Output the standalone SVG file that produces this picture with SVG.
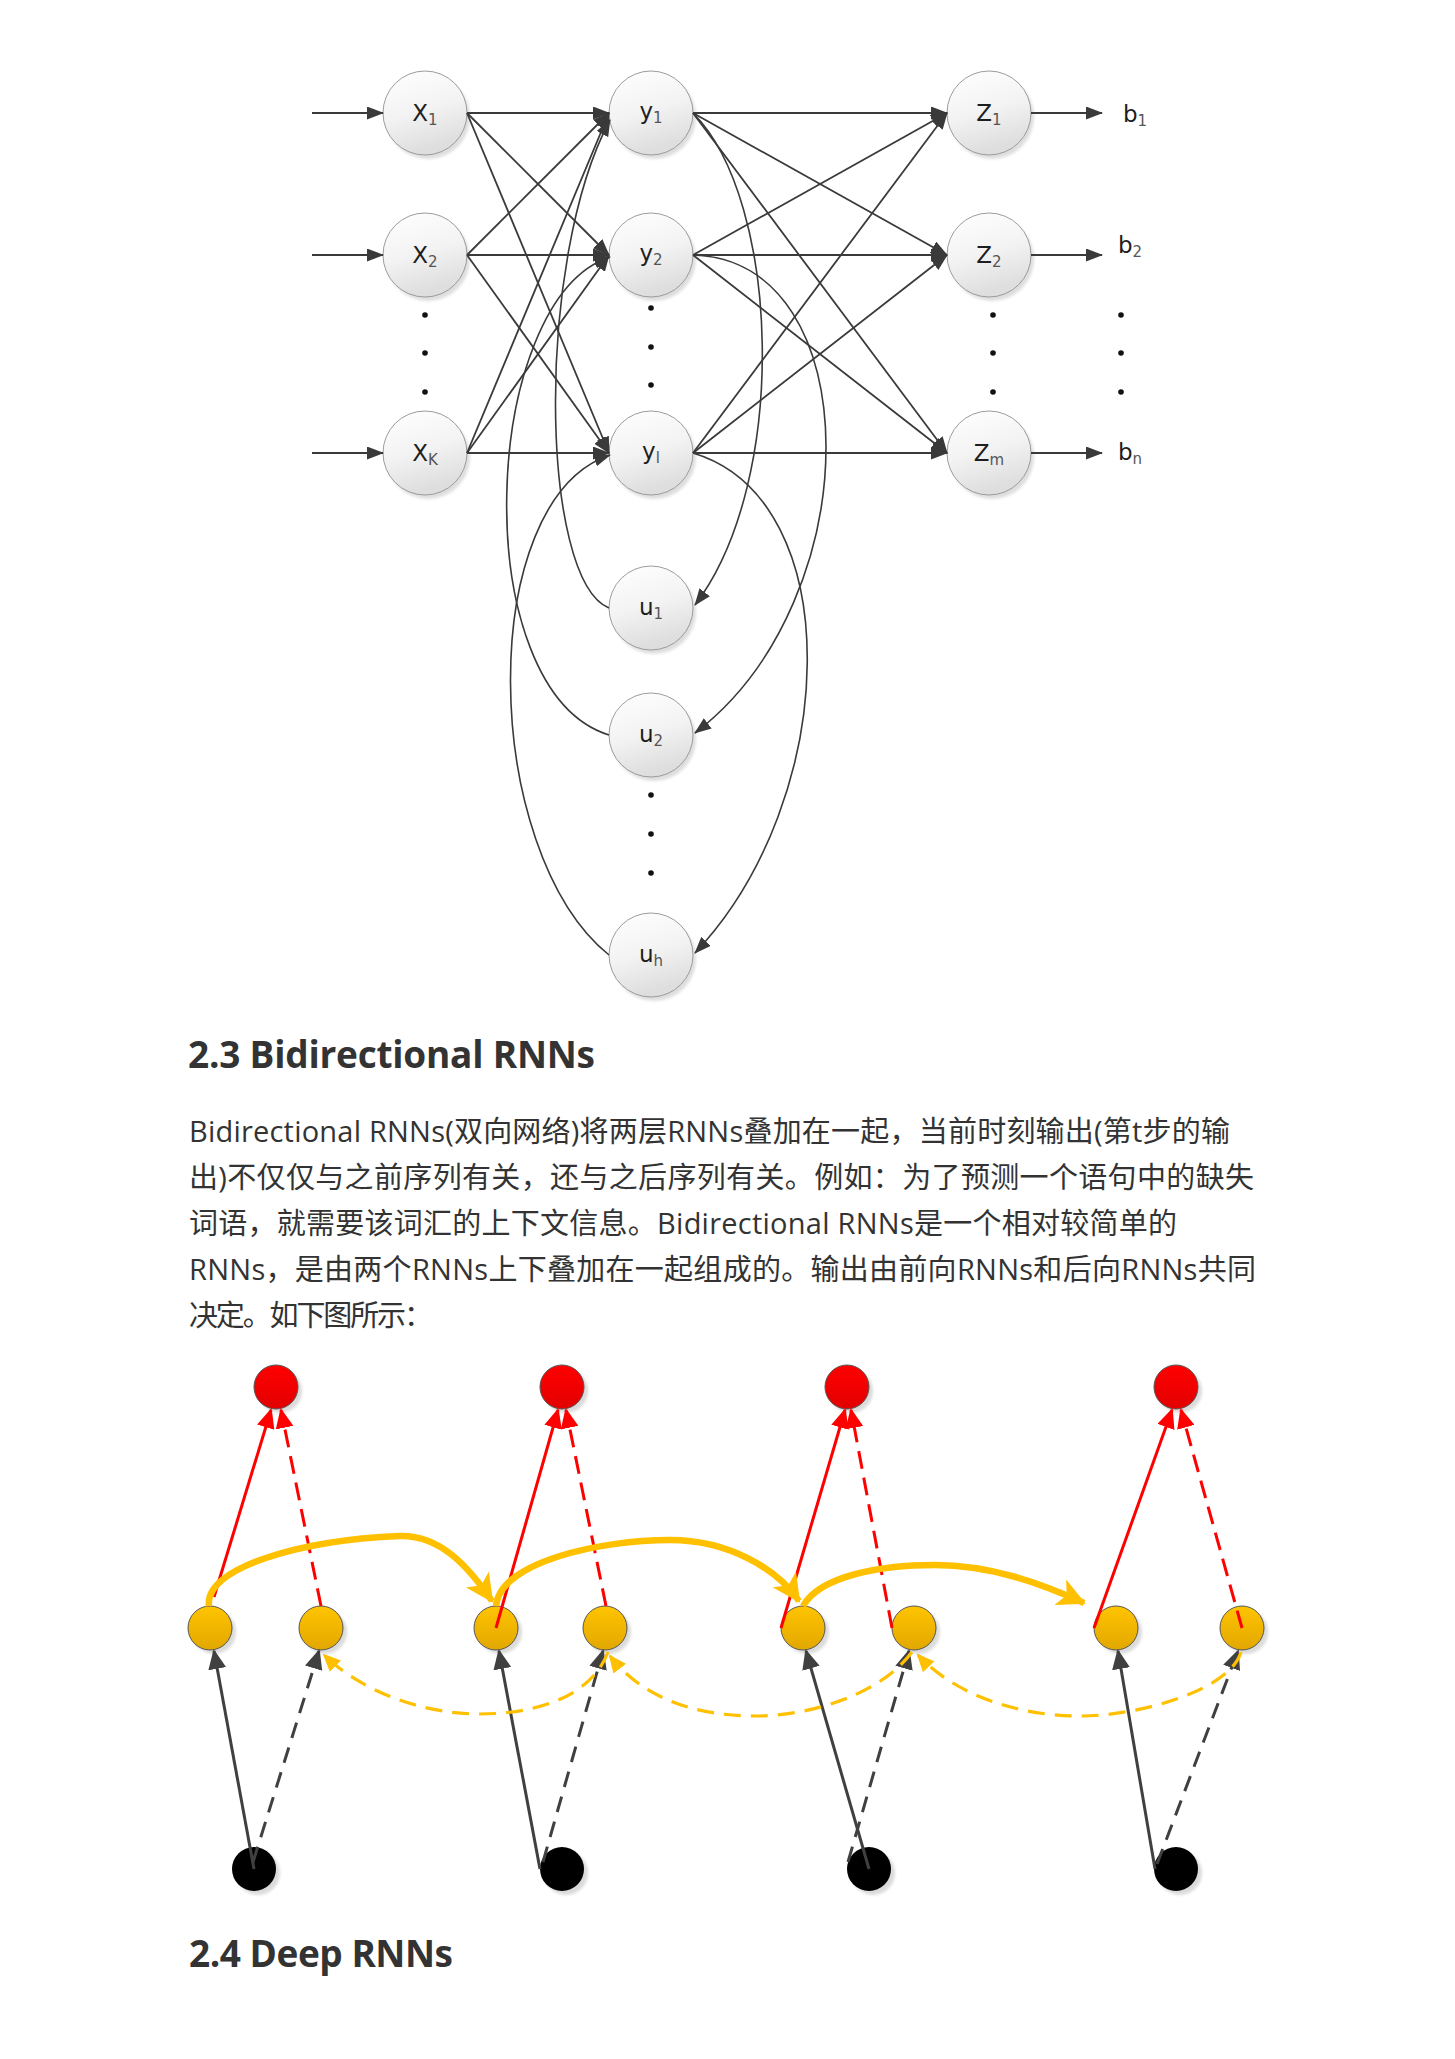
<svg xmlns="http://www.w3.org/2000/svg" width="1455" height="2059" viewBox="0 0 1455 2059">
<defs>
<style>
.c{fill:url(#gGray);stroke:#9c9c9c;stroke-width:1}
.sh{fill:#000;opacity:0.13;filter:url(#blur)}
.lbl{font-family:"DejaVu Sans",sans-serif;font-size:23px;fill:#1e1e1e;text-anchor:middle}
.lbl2{font-family:"DejaVu Sans",sans-serif;font-size:23px;fill:#1e1e1e}
.sub{font-size:15px;fill:#555}
.dot{fill:#111}
.ln{stroke:#3a3a3a;stroke-width:1.8;fill:none;marker-end:url(#mT)}
.cv{stroke:#3a3a3a;stroke-width:1.6;fill:none;marker-end:url(#mT)}
.dk{stroke:#404040;stroke-width:3;fill:none;marker-end:url(#mD)}
.dkd{stroke:#404040;stroke-width:3;fill:none;stroke-dasharray:16 10;marker-end:url(#mD)}
.rd{stroke:#FF0000;stroke-width:3;fill:none;marker-end:url(#mR)}
.rdd{stroke:#FF0000;stroke-width:3;fill:none;stroke-dasharray:18 9;marker-end:url(#mR)}
.yt{stroke:#FFC000;stroke-width:6.5;fill:none;marker-end:url(#mY)}
.yd{stroke:#FFC000;stroke-width:3.2;fill:none;stroke-dasharray:17 10;marker-end:url(#mYs)}
.yc{fill:url(#gYel);stroke:#555;stroke-width:1}
.rc{fill:url(#gRed);stroke:#555;stroke-width:1}
.kc{fill:#000}
.bsh{fill:#000;opacity:0.14;filter:url(#blur)}
.h{font-family:"Open Sans","Noto Sans CJK SC",sans-serif;font-weight:700;font-size:37px;fill:#333}
.p{font-family:"Open Sans","Noto Sans CJK SC",sans-serif;font-size:29px;fill:#333}
</style>
<linearGradient id="gGray" x1="0" y1="0" x2="0.3" y2="1">
<stop offset="0" stop-color="#ffffff"/><stop offset="0.55" stop-color="#f3f3f3"/><stop offset="1" stop-color="#dedede"/>
</linearGradient>
<linearGradient id="gYel" x1="0" y1="0" x2="0" y2="1">
<stop offset="0" stop-color="#FFC400"/><stop offset="1" stop-color="#E2A700"/>
</linearGradient>
<linearGradient id="gRed" x1="0" y1="0" x2="0" y2="1">
<stop offset="0" stop-color="#FF0000"/><stop offset="1" stop-color="#E20000"/>
</linearGradient>
<filter id="blur" x="-20%" y="-20%" width="140%" height="140%"><feGaussianBlur stdDeviation="1.6"/></filter>
<marker id="mT" markerUnits="userSpaceOnUse" markerWidth="17" markerHeight="13" refX="16" refY="6.5" orient="auto"><path d="M0,0 L17,6.5 L0,13 z" fill="#3a3a3a"/></marker>
<marker id="mD" markerUnits="userSpaceOnUse" markerWidth="20" markerHeight="18" refX="18" refY="9" orient="auto"><path d="M0,0 L20,9 L0,18 z" fill="#404040"/></marker>
<marker id="mR" markerUnits="userSpaceOnUse" markerWidth="20" markerHeight="18" refX="18" refY="9" orient="auto"><path d="M0,0 L20,9 L0,18 z" fill="#FF0000"/></marker>
<marker id="mY" markerUnits="userSpaceOnUse" markerWidth="28" markerHeight="28" refX="26" refY="14" orient="auto"><path d="M0,0 L28,14 L0,28 L7,14 z" fill="#FFC000"/></marker>
<marker id="mYs" markerUnits="userSpaceOnUse" markerWidth="18" markerHeight="16" refX="16" refY="8" orient="auto"><path d="M0,0 L18,8 L0,16 z" fill="#FFC000"/></marker>
</defs>
<rect width="1455" height="2059" fill="#ffffff"/>

<!-- ===== top network nodes ===== -->
<g id="node-x1"><circle class="sh" cx="428" cy="117" r="42"/><circle class="c" cx="425" cy="113" r="42"/><text class="lbl" x="425" y="121">X<tspan class="sub" dy="4">1</tspan></text></g>
<g id="node-x2"><circle class="sh" cx="428" cy="259" r="42"/><circle class="c" cx="425" cy="255" r="42"/><text class="lbl" x="425" y="263">X<tspan class="sub" dy="4">2</tspan></text></g>
<g id="node-xk"><circle class="sh" cx="428" cy="457" r="42"/><circle class="c" cx="425" cy="453" r="42"/><text class="lbl" x="425" y="461">X<tspan class="sub" dy="4">K</tspan></text></g>
<g id="node-y1"><circle class="sh" cx="654" cy="117" r="42"/><circle class="c" cx="651" cy="113" r="42"/><text class="lbl" x="651" y="119">y<tspan class="sub" dy="4">1</tspan></text></g>
<g id="node-y2"><circle class="sh" cx="654" cy="259" r="42"/><circle class="c" cx="651" cy="255" r="42"/><text class="lbl" x="651" y="261">y<tspan class="sub" dy="4">2</tspan></text></g>
<g id="node-yl"><circle class="sh" cx="654" cy="457" r="42"/><circle class="c" cx="651" cy="453" r="42"/><text class="lbl" x="651" y="459">y<tspan class="sub" dy="4">l</tspan></text></g>
<g id="node-z1"><circle class="sh" cx="992" cy="117" r="42"/><circle class="c" cx="989" cy="113" r="42"/><text class="lbl" x="989" y="121">Z<tspan class="sub" dy="4">1</tspan></text></g>
<g id="node-z2"><circle class="sh" cx="992" cy="259" r="42"/><circle class="c" cx="989" cy="255" r="42"/><text class="lbl" x="989" y="263">Z<tspan class="sub" dy="4">2</tspan></text></g>
<g id="node-zm"><circle class="sh" cx="992" cy="457" r="42"/><circle class="c" cx="989" cy="453" r="42"/><text class="lbl" x="989" y="461">Z<tspan class="sub" dy="4">m</tspan></text></g>
<g id="node-u1"><circle class="sh" cx="654" cy="612" r="42"/><circle class="c" cx="651" cy="608" r="42"/><text class="lbl" x="651" y="615">u<tspan class="sub" dy="4">1</tspan></text></g>
<g id="node-u2"><circle class="sh" cx="654" cy="739" r="42"/><circle class="c" cx="651" cy="735" r="42"/><text class="lbl" x="651" y="742">u<tspan class="sub" dy="4">2</tspan></text></g>
<g id="node-uh"><circle class="sh" cx="654" cy="959" r="42"/><circle class="c" cx="651" cy="955" r="42"/><text class="lbl" x="651" y="962">u<tspan class="sub" dy="4">h</tspan></text></g>
<g id="label-b1"><text class="lbl2" x="1123" y="122">b<tspan class="sub" dy="4">1</tspan></text></g>
<g id="label-b2"><text class="lbl2" x="1118" y="253">b<tspan class="sub" dy="4">2</tspan></text></g>
<g id="label-bn"><text class="lbl2" x="1118" y="460">b<tspan class="sub" dy="4">n</tspan></text></g>

<g id="ellipsis-dots">
<circle class="dot" cx="425" cy="315" r="2.8"/><circle class="dot" cx="425" cy="353" r="2.8"/><circle class="dot" cx="425" cy="392" r="2.8"/>
<circle class="dot" cx="651" cy="308" r="2.8"/><circle class="dot" cx="651" cy="347" r="2.8"/><circle class="dot" cx="651" cy="385" r="2.8"/>
<circle class="dot" cx="993" cy="315" r="2.8"/><circle class="dot" cx="993" cy="353" r="2.8"/><circle class="dot" cx="993" cy="392" r="2.8"/>
<circle class="dot" cx="1121" cy="315" r="2.8"/><circle class="dot" cx="1121" cy="353" r="2.8"/><circle class="dot" cx="1121" cy="392" r="2.8"/>
<circle class="dot" cx="651" cy="795" r="2.8"/><circle class="dot" cx="651" cy="834" r="2.8"/><circle class="dot" cx="651" cy="873" r="2.8"/>
</g>

<!-- ===== text ===== -->
<text class="h" x="188" y="1068" textLength="407">2.3 Bidirectional RNNs</text>
<text class="p" x="189" y="1142" textLength="1041">Bidirectional RNNs(双向网络)将两层RNNs叠加在一起，当前时刻输出(第t步的输</text>
<text class="p" x="189" y="1188" textLength="1065">出)不仅仅与之前序列有关，还与之后序列有关。例如：为了预测一个语句中的缺失</text>
<text class="p" x="189" y="1234" textLength="988">词语，就需要该词汇的上下文信息。Bidirectional RNNs是一个相对较简单的</text>
<text class="p" x="189" y="1280" textLength="1067">RNNs，是由两个RNNs上下叠加在一起组成的。输出由前向RNNs和后向RNNs共同</text>
<text class="p" x="189" y="1326" textLength="244">决定。如下图所示：</text>
<text class="h" x="189" y="1967" textLength="264">2.4 Deep RNNs</text>

<!-- ===== bottom diagram nodes ===== -->
<g id="node-out1"><circle class="bsh" cx="280" cy="1391" r="22"/><circle class="rc" cx="276" cy="1387" r="22"/></g>
<g id="node-out2"><circle class="bsh" cx="566" cy="1391" r="22"/><circle class="rc" cx="562" cy="1387" r="22"/></g>
<g id="node-out3"><circle class="bsh" cx="851" cy="1391" r="22"/><circle class="rc" cx="847" cy="1387" r="22"/></g>
<g id="node-out4"><circle class="bsh" cx="1180" cy="1391" r="22"/><circle class="rc" cx="1176" cy="1387" r="22"/></g>
<g id="node-fw1"><circle class="bsh" cx="214" cy="1632" r="22"/><circle class="yc" cx="210" cy="1628" r="22"/></g>
<g id="node-bw1"><circle class="bsh" cx="325" cy="1632" r="22"/><circle class="yc" cx="321" cy="1628" r="22"/></g>
<g id="node-fw2"><circle class="bsh" cx="500" cy="1632" r="22"/><circle class="yc" cx="496" cy="1628" r="22"/></g>
<g id="node-bw2"><circle class="bsh" cx="609" cy="1632" r="22"/><circle class="yc" cx="605" cy="1628" r="22"/></g>
<g id="node-fw3"><circle class="bsh" cx="807" cy="1632" r="22"/><circle class="yc" cx="803" cy="1628" r="22"/></g>
<g id="node-bw3"><circle class="bsh" cx="918" cy="1632" r="22"/><circle class="yc" cx="914" cy="1628" r="22"/></g>
<g id="node-fw4"><circle class="bsh" cx="1120" cy="1632" r="22"/><circle class="yc" cx="1116" cy="1628" r="22"/></g>
<g id="node-bw4"><circle class="bsh" cx="1246" cy="1632" r="22"/><circle class="yc" cx="1242" cy="1628" r="22"/></g>
<g id="node-in1"><circle class="bsh" cx="258" cy="1873" r="22"/><circle class="kc" cx="254" cy="1869" r="22"/></g>
<g id="node-in2"><circle class="bsh" cx="566" cy="1873" r="22"/><circle class="kc" cx="562" cy="1869" r="22"/></g>
<g id="node-in3"><circle class="bsh" cx="873" cy="1873" r="22"/><circle class="kc" cx="869" cy="1869" r="22"/></g>
<g id="node-in4"><circle class="bsh" cx="1180" cy="1873" r="22"/><circle class="kc" cx="1176" cy="1869" r="22"/></g>

<!-- ===== connectors ===== -->
<g id="connectors">
<g id="top-connectors">
<path class="ln" d="M312,113 H383"/><path class="ln" d="M312,255 H383"/><path class="ln" d="M312,453 H383"/>
<path class="ln" d="M467,113 L609,113"/><path class="ln" d="M467,113 L609,255"/><path class="ln" d="M467,113 L609,453"/>
<path class="ln" d="M467,255 L609,113"/><path class="ln" d="M467,255 L609,255"/><path class="ln" d="M467,255 L609,453"/>
<path class="ln" d="M467,453 L609,113"/><path class="ln" d="M467,453 L609,255"/><path class="ln" d="M467,453 L609,453"/>
<path class="ln" d="M693,113 L947,113"/><path class="ln" d="M693,113 L947,255"/><path class="ln" d="M693,113 L947,453"/>
<path class="ln" d="M693,255 L947,113"/><path class="ln" d="M693,255 L947,255"/><path class="ln" d="M693,255 L947,453"/>
<path class="ln" d="M693,453 L947,113"/><path class="ln" d="M693,453 L947,255"/><path class="ln" d="M693,453 L947,453"/>
<path class="ln" d="M1031,113 H1102"/><path class="ln" d="M1031,255 H1102"/><path class="ln" d="M1031,453 H1102"/>
<path class="cv" d="M609,608 C540,580 535,260 610,120"/>
<path class="cv" d="M609,735 C465,690 480,300 610,257"/>
<path class="cv" d="M609,955 C480,850 475,500 610,455"/>
<path class="cv" d="M693,113 C780,200 790,480 695,605"/>
<path class="cv" d="M693,255 C870,260 870,600 695,733"/>
<path class="cv" d="M693,453 C850,500 840,800 695,953"/>
</g>
<g id="bottom-connectors">
<path class="dk" d="M254,1869 L214,1651"/>
<path class="dk" d="M540,1869 L499,1651"/>
<path class="dk" d="M869,1869 L806,1651"/>
<path class="dk" d="M1155,1869 L1118,1651"/>
<path class="dkd" d="M253,1862 L319,1651"/>
<path class="dkd" d="M543,1862 L603,1651"/>
<path class="dkd" d="M848,1862 L909,1651"/>
<path class="dkd" d="M1157,1864 L1238,1651"/>
<path class="rd" d="M214,1597 L271,1410"/>
<path class="rd" d="M496,1628 L558,1410"/>
<path class="rd" d="M781,1628 L845,1410"/>
<path class="rd" d="M1094,1628 L1172,1410"/>
<path class="rdd" d="M321,1606 L281,1410"/>
<path class="rdd" d="M606,1606 L566,1410"/>
<path class="rdd" d="M892,1628 L851,1410"/>
<path class="rdd" d="M1242,1628 L1181,1410"/>
<path class="yt" d="M209,1606 C204,1568 300,1540 400,1536 C440,1535 468,1566 492,1601"/>
<path class="yt" d="M496,1606 C500,1562 600,1540 670,1540 C730,1540 778,1570 799,1601"/>
<path class="yt" d="M803,1606 C820,1576 880,1565 935,1565 C990,1565 1040,1583 1084,1603"/>
<path class="yd" d="M608,1652 C590,1700 530,1714 480,1714 C420,1714 360,1690 324,1655"/>
<path class="yd" d="M912,1652 C880,1695 810,1716 755,1716 C690,1716 640,1695 610,1656"/>
<path class="yd" d="M1241,1652 C1230,1690 1140,1716 1080,1716 C1010,1716 950,1690 918,1655"/>
</g>
</g>
</svg>
